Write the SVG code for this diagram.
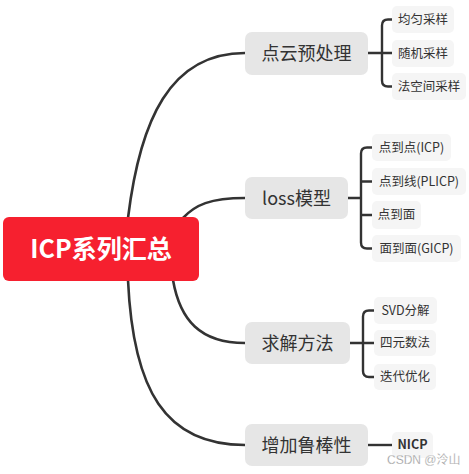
<svg xmlns="http://www.w3.org/2000/svg" width="469" height="474" viewBox="0 0 469 474">
<style>
.cn{fill:none;stroke:#333;stroke-width:2.6;stroke-linecap:round}
.br{fill:none;stroke:#333;stroke-width:2.4}
.l1{fill:#e6e6e6}
.l2{fill:#f5f5f5}
.t1{font-family:"Noto Sans CJK SC","Noto Sans",sans-serif;font-size:18px;fill:#333;text-anchor:middle}
.t2{font-family:"Noto Sans CJK SC","Noto Sans",sans-serif;font-size:12.5px;fill:#333;text-anchor:middle}
</style>
<rect width="469" height="474" fill="#fff"/>
<g id="connectors">
<path class="cn" d="M128,218 C140,120 170,53 245,53"/>
<path class="cn" d="M183,218 C195,205 210,198 245,198"/>
<path class="cn" d="M173,280 C180,320 200,343 245,343"/>
<path class="cn" d="M128,280 C133,390 165,445 245,445"/>
<path class="br" d="M368,53 H392 M392,19.5 H388 Q382,19.5 382,25.5 V80.5 Q382,86.5 388,86.5 H392"/>
<path class="br" d="M348,198 H361 M372,147.5 H367 Q361,147.5 361,153.5 V242.5 Q361,248.5 367,248.5 H372 M361,181.5 H372 M361,215 H372"/>
<path class="br" d="M350,343 H374 M374,310.5 H369 Q363,310.5 363,316.5 V371 Q363,377 369,377 H374"/>
<path class="br" d="M368,445 H392"/>
</g>
<g id="root">
<rect x="3" y="217" width="196" height="64" rx="6" fill="#f6202f"/>
<text x="101" y="258" font-family="'Noto Sans CJK SC','Noto Sans',sans-serif" font-size="25" font-weight="bold" fill="#fff" text-anchor="middle">ICP系列汇总</text>
</g>
<g id="n1"><rect class="l1" x="245" y="32" width="123" height="43" rx="7"/><text class="t1" x="306.5" y="59.5">点云预处理</text></g>
<g id="n2"><rect class="l1" x="245" y="177" width="103" height="42" rx="7"/><text class="t1" x="296.5" y="204.5">loss模型</text></g>
<g id="n3"><rect class="l1" x="245" y="322" width="105" height="42" rx="7"/><text class="t1" x="297.5" y="349.5">求解方法</text></g>
<g id="n4"><rect class="l1" x="245" y="424" width="123" height="42" rx="7"/><text class="t1" x="306.5" y="451.5">增加鲁棒性</text></g>
<g id="c11"><rect class="l2" x="392" y="6" width="62" height="27" rx="5"/><text class="t2" x="423" y="23.8">均匀采样</text></g>
<g id="c12"><rect class="l2" x="392" y="40" width="62" height="27" rx="5"/><text class="t2" x="423" y="57.8">随机采样</text></g>
<g id="c13"><rect class="l2" x="392" y="73" width="74" height="27" rx="5"/><text class="t2" x="429" y="90.8">法空间采样</text></g>
<g id="c21"><rect class="l2" x="372" y="134" width="79" height="27" rx="5"/><text class="t2" x="411.5" y="151.8">点到点(ICP)</text></g>
<g id="c22"><rect class="l2" x="372" y="168" width="94" height="27" rx="5"/><text class="t2" x="419" y="185.8">点到线(PLICP)</text></g>
<g id="c23"><rect class="l2" x="372" y="201" width="49" height="28" rx="5"/><text class="t2" x="396.5" y="219.3">点到面</text></g>
<g id="c24"><rect class="l2" x="372" y="235" width="89" height="27" rx="5"/><text class="t2" x="416.5" y="252.8">面到面(GICP)</text></g>
<g id="c31"><rect class="l2" x="374" y="297" width="63" height="27" rx="5"/><text class="t2" x="405.5" y="314.8">SVD分解</text></g>
<g id="c32"><rect class="l2" x="374" y="330" width="62" height="26" rx="5"/><text class="t2" x="405" y="347.3">四元数法</text></g>
<g id="c33"><rect class="l2" x="374" y="364" width="62" height="26" rx="5"/><text class="t2" x="405" y="381.3">迭代优化</text></g>
<g id="c41"><rect class="l2" x="392" y="432" width="41" height="26" rx="5"/><text class="t2" x="412.5" y="448.5" font-weight="600">NICP</text></g>
<text x="387" y="463.5" font-family="'Liberation Sans','Noto Sans CJK SC',sans-serif" font-size="12" fill="#8a8a8a" stroke="#fff" stroke-width="0.3">CSDN @泠山</text>
</svg>
